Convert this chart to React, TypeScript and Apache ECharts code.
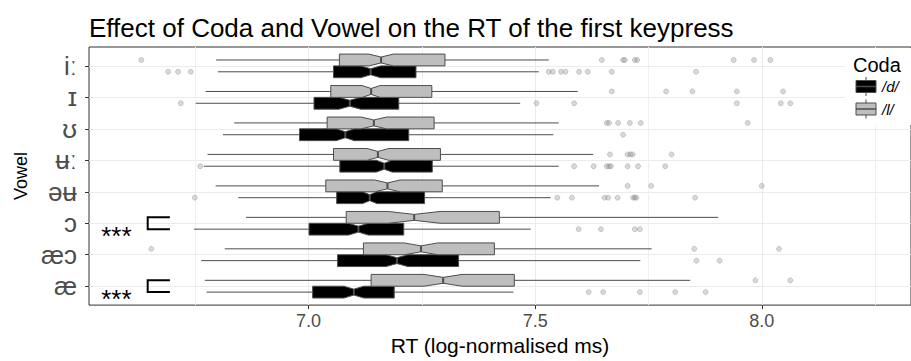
import React, { useEffect, useRef } from 'react';
import * as echarts from 'echarts';

// ---------- data ----------
const vowels = ['iː', 'ɪ', 'ʊ', 'ʉː', 'əʉ', 'ɔ', 'æɔ', 'æ'];
const codas = ['/d/', '/l/'];
const xTicks = [7.0, 7.5, 8.0];
const xMinorTicks = [6.75, 7.25, 7.75, 8.25];

// Coda /d/ (black boxes)
const dLow = [6.800, 6.751, 6.811, 6.769, 6.845, 6.747, 6.763, 6.775];
const dQ1 = [7.055, 7.012, 6.980, 7.069, 7.062, 7.001, 7.064, 7.009];
const dMed = [7.137, 7.091, 7.081, 7.167, 7.135, 7.110, 7.195, 7.100];
const dQ3 = [7.237, 7.199, 7.221, 7.273, 7.256, 7.210, 7.331, 7.189];
const dHigh = [7.508, 7.467, 7.540, 7.552, 7.534, 7.490, 7.732, 7.452];
const dNotch = [0.022, 0.024, 0.020, 0.0175, 0.016, 0.022, 0.024, 0.022];

// Coda /l/ (grey boxes)
const lLow = [6.796, 6.773, 6.836, 6.777, 6.795, 6.862, 6.815, 6.771];
const lQ1 = [7.068, 7.049, 7.041, 7.055, 7.038, 7.083, 7.121, 7.138];
const lMed = [7.160, 7.138, 7.144, 7.153, 7.174, 7.233, 7.248, 7.297];
const lQ3 = [7.301, 7.272, 7.277, 7.291, 7.295, 7.421, 7.410, 7.454];
const lHigh = [7.530, 7.594, 7.552, 7.628, 7.641, 7.904, 7.757, 7.842];
const lNotch = [0.027, 0.020, 0.028, 0.024, 0.028, 0.057, 0.037, 0.042];

// outliers per vowel
const dOutliers: number[][] = [
  [6.690, 6.712, 6.740, 7.530, 7.539, 7.557, 7.567, 7.597, 7.616, 7.669, 7.855],
  [6.718, 7.503, 7.586, 7.945, 8.042, 8.063],
  [7.694],
  [6.761, 7.586, 7.629, 7.658, 7.663, 7.667, 7.704, 7.727, 7.787],
  [6.749, 7.549, 7.581, 7.653, 7.661, 7.682, 7.716, 7.720, 7.723, 7.853],
  [7.596, 7.645, 7.720, 7.731],
  [7.856, 7.907],
  [7.618, 7.650, 7.731, 7.809, 7.876],
];
const lOutliers: number[][] = [
  [6.631, 7.647, 7.694, 7.698, 7.720, 7.725, 7.938, 7.983, 8.019],
  [7.669, 7.789, 7.847, 7.945, 8.047],
  [7.658, 7.663, 7.683, 7.709, 7.733, 7.969],
  [7.665, 7.704, 7.710, 7.715, 7.801],
  [7.704, 7.756, 8.000],
  [],
  [6.653, 7.851, 8.038],
  [7.986, 8.063],
];

const sigVowels = ['ɔ', 'æ'];
const sigLabel = '***';

const titleText = 'Effect of Coda and Vowel on the RT of the first keypress';
const xTitle = 'RT (log-normalised ms)';
const yTitle = 'Vowel';
const legendTitle = 'Coda';

// ---------- layout / style constants ----------
const X_MIN = 6.5155;
const X_MAX = 8.3293;
const BOX = 0.375;
const FONT = 'Liberation Sans, Arial, Helvetica, sans-serif';
const OUTLINE = '#4D4D4D';
const GREY_FILL = '#BEBEBE';
const BRACKET_X0 = 6.645;
const BRACKET_X1 = 6.694;
const SIG_TEXT_X = 6.576;

export default function App() {
  const ref = useRef<HTMLDivElement>(null);

  useEffect(() => {
    if (!ref.current) return;
    const chart = echarts.init(ref.current, null, { renderer: 'svg' });

    const boxData: number[][] = [];
    vowels.forEach((_, i) => {
      boxData.push([i + 1, 0, dLow[i], dQ1[i], dMed[i] - dNotch[i], dMed[i], dMed[i] + dNotch[i], dQ3[i], dHigh[i]]);
      boxData.push([i + 1, 1, lLow[i], lQ1[i], lMed[i] - lNotch[i], lMed[i], lMed[i] + lNotch[i], lQ3[i], lHigh[i]]);
    });

    const outData: number[][] = [];
    vowels.forEach((_, i) => {
      dOutliers[i].forEach((x) => outData.push([x, i + 1 + BOX / 2]));
      lOutliers[i].forEach((x) => outData.push([x, i + 1 - BOX / 2]));
    });

    const sigData = sigVowels.map((v) => [vowels.indexOf(v) + 1]);

    const renderBox = (params: any, api: any) => {
      const pos = api.value(0);
      const side = api.value(1);
      const lo = api.value(2);
      const q1 = api.value(3);
      const nLo = api.value(4);
      const med = api.value(5);
      const nHi = api.value(6);
      const q3 = api.value(7);
      const hi = api.value(8);
      const yTop = side === 1 ? pos - BOX : pos;
      const yBot = side === 1 ? pos : pos + BOX;
      const yMid = (yTop + yBot) / 2;
      const yIn1 = yTop + BOX / 4;
      const yIn2 = yBot - BOX / 4;
      const c = (x: number, y: number) => api.coord([x, y]);
      const fill = side === 1 ? GREY_FILL : '#000000';
      const pts = [
        c(q1, yTop), c(nLo, yTop), c(med, yIn1), c(nHi, yTop), c(q3, yTop),
        c(q3, yBot), c(nHi, yBot), c(med, yIn2), c(nLo, yBot), c(q1, yBot),
      ];
      const m1 = c(med, yIn1);
      const m2 = c(med, yIn2);
      const w1a = c(lo, yMid), w1b = c(q1, yMid);
      const w2a = c(q3, yMid), w2b = c(hi, yMid);
      return {
        type: 'group',
        children: [
          { type: 'line', shape: { x1: w1a[0], y1: w1a[1], x2: w1b[0], y2: w1b[1] }, style: { stroke: OUTLINE, lineWidth: 1 } },
          { type: 'line', shape: { x1: w2a[0], y1: w2a[1], x2: w2b[0], y2: w2b[1] }, style: { stroke: OUTLINE, lineWidth: 1 } },
          { type: 'polygon', shape: { points: pts }, style: { fill, stroke: OUTLINE, lineWidth: 1 } },
          { type: 'line', shape: { x1: m1[0], y1: m1[1], x2: m2[0], y2: m2[1] }, style: { stroke: OUTLINE, lineWidth: 2 } },
        ],
      };
    };

    const renderSig = (params: any, api: any) => {
      const pos = api.value(0);
      const a = api.coord([BRACKET_X1, pos - BOX / 2]);
      const b = api.coord([BRACKET_X0, pos - BOX / 2]);
      const cc = api.coord([BRACKET_X0, pos + BOX / 2]);
      const d = api.coord([BRACKET_X1, pos + BOX / 2]);
      const t = api.coord([SIG_TEXT_X, pos + 0.42]);
      return {
        type: 'group',
        children: [
          { type: 'polyline', shape: { points: [a, b, cc, d] }, style: { stroke: '#000', lineWidth: 2, fill: null } },
          {
            type: 'text', x: t[0], y: t[1],
            style: { text: sigLabel, fontSize: 26, fontFamily: FONT, fill: '#000', align: 'center', verticalAlign: 'middle' },
          },
        ],
      };
    };

    const kx = 856, kw = 20, kh = 12;
    const keyCenters = [86.5, 109];
    const legendGraphics: any[] = [
      { type: 'rect', shape: { x: 845, y: 48, width: 80, height: 77 }, style: { fill: '#ffffff' }, z: 100 },
      { type: 'text', x: 853, y: 55, style: { text: legendTitle, fontSize: 20, fontFamily: FONT, fill: '#000' }, z: 101 },
    ];
    codas.forEach((lab, i) => {
      const cy = keyCenters[i];
      const fill = i === 1 ? GREY_FILL : '#000000';
      legendGraphics.push(
        { type: 'line', shape: { x1: kx + kw / 2, y1: cy - 9.5, x2: kx + kw / 2, y2: cy + 9.5 }, style: { stroke: OUTLINE, lineWidth: 1 }, z: 101 },
        { type: 'rect', shape: { x: kx, y: cy - kh / 2, width: kw, height: kh }, style: { fill, stroke: OUTLINE, lineWidth: 1 }, z: 102 },
        { type: 'line', shape: { x1: kx, y1: cy, x2: kx + kw, y2: cy }, style: { stroke: OUTLINE, lineWidth: 1.5 }, z: 103 },
        { type: 'text', x: 882, y: cy, style: { text: lab, fontSize: 15, fontFamily: FONT, fontStyle: 'italic', fill: '#000', verticalAlign: 'middle' }, z: 103 },
      );
    });

    chart.setOption({
      animation: false,
      backgroundColor: '#ffffff',
      title: {
        text: titleText,
        left: 89,
        top: 15,
        padding: 0,
        textStyle: { fontSize: 26, fontWeight: 'normal', color: '#000', fontFamily: FONT },
      },
      grid: {
        left: 89, top: 47, right: -8, bottom: 48,
        show: true, borderColor: '#333333', borderWidth: 1, backgroundColor: '#ffffff',
        containLabel: false,
      },
      xAxis: [
        {
          type: 'value', min: X_MIN, max: X_MAX,
          axisLine: { show: false },
          axisTick: { show: true, length: 4, lineStyle: { color: '#333333' }, customValues: xTicks },
          axisLabel: { customValues: xTicks, formatter: (v: number) => v.toFixed(1), fontSize: 18, color: '#4D4D4D', margin: 7, fontFamily: FONT },
          splitLine: { show: true, lineStyle: { color: '#EBEBEB', width: 1 } },
          name: xTitle, nameLocation: 'middle', nameGap: 27,
          nameTextStyle: { fontSize: 21, color: '#000', fontFamily: FONT },
        },
        {
          type: 'value', min: X_MIN, max: X_MAX,
          axisLine: { show: false },
          axisTick: { show: false, customValues: xMinorTicks },
          axisLabel: { show: false, customValues: xMinorTicks },
          splitLine: { show: true, lineStyle: { color: '#F0F0F0', width: 1 } },
        },
      ],
      yAxis: {
        type: 'value', inverse: true, min: 0.4, max: 8.6,
        axisLine: { show: false },
        axisTick: { show: true, length: 4, lineStyle: { color: '#333333' }, customValues: [1, 2, 3, 4, 5, 6, 7, 8] },
        axisLabel: {
          customValues: [1, 2, 3, 4, 5, 6, 7, 8],
          formatter: (v: number) => vowels[Math.round(v) - 1] ?? '',
          fontSize: 26, color: '#4D4D4D', margin: 12, fontFamily: FONT,
        },
        splitLine: { show: true, lineStyle: { color: '#EBEBEB', width: 1 } },
        name: yTitle, nameLocation: 'middle', nameRotate: 90, nameGap: 59,
        nameTextStyle: { fontSize: 18, color: '#000', fontFamily: FONT },
      },
      series: [
        {
          type: 'custom', name: 'boxes', renderItem: renderBox, data: boxData, clip: false,
          encode: { x: [2, 3, 4, 5, 6, 7, 8], y: 0 }, z: 3,
        },
        {
          type: 'scatter', name: 'outliers', data: outData, symbol: 'circle', symbolSize: 5,
          itemStyle: { color: 'rgba(150,150,150,0.45)', borderColor: 'rgba(90,90,90,0.45)', borderWidth: 0.7 },
          z: 4,
        },
        {
          type: 'custom', name: 'sig', renderItem: renderSig, data: sigData, clip: false,
          encode: { y: 0 }, z: 5,
        },
      ],
      graphic: legendGraphics,
    });

    return () => chart.dispose();
  }, []);

  return <div ref={ref} style={{ position: 'fixed', left: 0, top: 0, width: 911, height: 361 }} />;
}
